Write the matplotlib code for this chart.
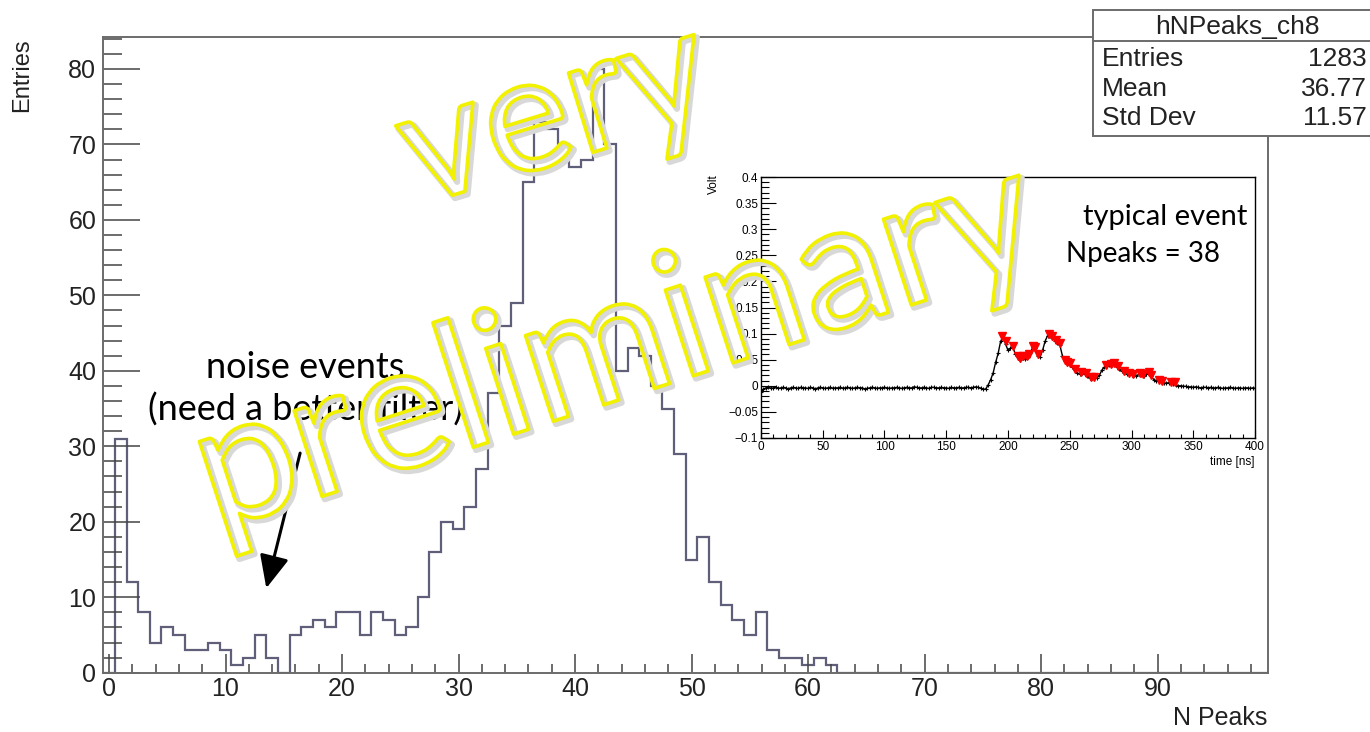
"""
Number of peaks found per event on channel 8, with one typical waveform
shown as an inset. ROOT-style histogram look done with matplotlib.
"""

import numpy as np
import matplotlib.pyplot as plt
import matplotlib.patheffects as pe
from matplotlib.patches import Rectangle
from matplotlib.ticker import FuncFormatter

W, H = 1370, 732

# ----------------------------------------------------------------------
# data
# ----------------------------------------------------------------------
# counts per integer N peaks, bins 0..62 (everything above is empty)
npeaks_counts = [0, 31, 12, 8, 4, 6, 5, 3, 3, 4, 3, 1, 2, 5, 2, 0,
                 5, 6, 7, 6, 8, 8, 5, 8, 7, 5, 6, 10, 16, 20, 19, 22,
                 27, 37, 46, 49, 65, 73, 72, 70, 67, 68, 80, 70,
                 40, 43, 42, 38, 35, 29, 15, 18, 12, 9, 7, 5, 8, 3, 2, 2, 1, 2, 1]
n_bins = 100

stat_names = ["Entries", "Mean", "Std Dev"]
stat_values = ["1283", "36.77", "11.57"]
hist_name = "hNPeaks_ch8"

# typical event, one sample every 2 ns from 0 to 400 ns
wave_dt = 2.0
wave_volts = [
    -0.012, -0.006, -0.004, -0.003, -0.005, -0.004, -0.003, -0.005, -0.004, -0.003,
    -0.004, -0.006, -0.004, -0.003, -0.004, -0.005, -0.003, -0.004, -0.004, -0.005,
    -0.003, -0.004, -0.006, -0.004, -0.003, -0.004, -0.005, -0.004, -0.003, -0.005,
    -0.004, -0.004, -0.003, -0.005, -0.004, -0.003, -0.004, -0.005, -0.004, -0.003,
    -0.004, -0.004, -0.006, -0.005, -0.004, -0.003, -0.004, -0.005, -0.004, -0.004,
    -0.003, -0.004, -0.005, -0.004, -0.004, -0.003, -0.004, -0.005, -0.004, -0.003,
    -0.004, -0.004, -0.002, -0.003, -0.004, -0.004, -0.003, -0.004, -0.005, -0.003,
    -0.003, -0.004, -0.004, -0.003, -0.004, -0.004, -0.005, -0.003, -0.004, -0.004,
    -0.003, -0.004, -0.004, -0.003, -0.003, -0.004, -0.003, -0.002, -0.003, -0.005,
    -0.007,                                                     # 180 ns
    -0.006, 0.002, 0.012, 0.025, 0.045, 0.062, 0.085, 0.094, 0.080, 0.068,   # 182-200
    0.072, 0.074, 0.060, 0.055, 0.050, 0.054, 0.052, 0.056, 0.062, 0.074,    # 202-220
    0.072, 0.058, 0.055, 0.068, 0.085, 0.096, 0.097, 0.092, 0.086, 0.082,    # 222-240
    0.078, 0.058, 0.048, 0.042, 0.040, 0.036, 0.030, 0.024, 0.023, 0.024,    # 242-260
    0.022, 0.018, 0.015, 0.014, 0.015, 0.015, 0.020, 0.030, 0.036, 0.038,    # 262-280
    0.039, 0.040, 0.041, 0.036, 0.032, 0.028, 0.026, 0.022, 0.021, 0.020,    # 282-300
    0.020, 0.018, 0.022, 0.020, 0.018, 0.022, 0.024, 0.018, 0.012, 0.010,    # 302-320
    0.010, 0.008, 0.006, 0.005, 0.006, 0.006, 0.004, 0.002, 0.000, 0.000,    # 322-340
    -0.001,                                                     # 342 ns
    -0.001, -0.002, -0.002, -0.003, -0.002, -0.003, -0.004, -0.003, -0.003, -0.004,
    -0.003, -0.004, -0.004, -0.003, -0.004, -0.005, -0.004, -0.004, -0.003, -0.004,
    -0.005, -0.004, -0.004, -0.005, -0.004, -0.004, -0.005, -0.004, -0.005,
]

# peaks found by the search in that event
peak_times = [195, 198, 204, 208, 210, 212, 215, 217, 220, 222,
              224, 233, 236, 239, 242, 246, 248, 250, 254, 259,
              263, 267, 270, 279, 283, 286, 289, 294, 298, 301,
              307, 309, 314, 316, 322, 325, 332, 335]
peak_volts = [0.096, 0.085, 0.076, 0.058, 0.054, 0.057, 0.058, 0.060, 0.076, 0.075,
              0.060, 0.099, 0.095, 0.088, 0.082, 0.050, 0.045, 0.043, 0.033, 0.026,
              0.025, 0.017, 0.017, 0.039, 0.041, 0.043, 0.038, 0.029, 0.024, 0.022,
              0.024, 0.022, 0.027, 0.021, 0.012, 0.010, 0.008, 0.008]

ROOT_FONT = "Liberation Sans"
NOTE_FONT = "Lato"
HIST_COLOR = "#5f5f7a"
FRAME_COLOR = "#6b6b6b"


def px_rect(left, top, right, bottom):
    """figure rect from pixel edges (origin top-left)"""
    return [left / W, 1 - bottom / H, (right - left) / W, (bottom - top) / H]


def fx(x):
    return x / W


def fy(y):
    return 1 - y / H


# ----------------------------------------------------------------------
# main histogram
# ----------------------------------------------------------------------
def draw_histogram(fig):
    ax = fig.add_axes(px_rect(103.2, 37.3, 1268.4, 672.7))
    counts = np.zeros(n_bins)
    counts[:len(npeaks_counts)] = npeaks_counts
    edges = np.arange(n_bins + 1) - 0.5
    ax.stairs(counts, edges, color=HIST_COLOR, linewidth=1.6)

    ax.set_xlim(-0.5, 99.5)
    ax.set_ylim(0, 84.2)
    ax.set_xticks(np.arange(0, 100, 10))
    ax.set_xticks(np.arange(0, 100, 2), minor=True)
    ax.set_yticks(np.arange(0, 81, 10))
    ax.set_yticks(np.arange(0, 85, 2), minor=True)

    for s in ax.spines.values():
        s.set_color(FRAME_COLOR)
        s.set_linewidth(1.4)
    ax.tick_params(axis="both", which="both", direction="in", color="#444444",
                   width=1.1, labelsize=18)
    ax.tick_params(axis="x", which="major", length=13.7, pad=3)
    ax.tick_params(axis="x", which="minor", length=6.8)
    ax.tick_params(axis="y", which="major", length=26.6, pad=5)
    ax.tick_params(axis="y", which="minor", length=13.7)
    for lab in ax.get_xticklabels() + ax.get_yticklabels():
        lab.set_fontfamily(ROOT_FONT)
        lab.set_color("#222222")

    fig.text(fx(22), fy(38), "Entries", rotation=90, ha="center", va="top",
             fontsize=17, family=ROOT_FONT, color="#222222")
    fig.text(fx(1267), fy(718), "N Peaks", ha="right", va="center",
             fontsize=18, family=ROOT_FONT, color="#222222")

    # comment about the low-N bump
    fig.text(fx(305), fy(368), "noise events", ha="center", va="center",
             fontsize=26, family=NOTE_FONT, color="black")
    fig.text(fx(305), fy(410), "(need a better filter)", ha="center", va="center",
             fontsize=26, family=NOTE_FONT, color="black")
    ax.annotate("", xy=(13.5, 11.2), xytext=(16.4, 29.1),
                arrowprops=dict(arrowstyle="-|>,head_length=1.0,head_width=0.45",
                                mutation_scale=20, color="black", lw=2.2,
                                shrinkA=0, shrinkB=0))
    return ax


def draw_stats_box(fig):
    box = Rectangle((fx(1093), fy(136)), fx(1420 - 1093), (136 - 10) / H,
                    transform=fig.transFigure, facecolor="white",
                    edgecolor=FRAME_COLOR, linewidth=1.4, zorder=5)
    fig.add_artist(box)
    fig.add_artist(plt.Line2D([fx(1093), fx(1420)], [fy(41), fy(41)],
                              transform=fig.transFigure, color=FRAME_COLOR,
                              linewidth=1.4, zorder=6))
    fig.text(fx(1237), fy(27), hist_name, ha="center", va="center",
             fontsize=19, family=ROOT_FONT, color="#222222", zorder=7)
    for i, (name, val) in enumerate(zip(stat_names, stat_values)):
        y = fy(59 + i * 29.5)
        fig.text(fx(1102), y, name, ha="left", va="center",
                 fontsize=19, family=ROOT_FONT, color="#222222", zorder=7)
        fig.text(fx(1367), y, val, ha="right", va="center",
                 fontsize=19, family=ROOT_FONT, color="#222222", zorder=7)


# ----------------------------------------------------------------------
# inset with one waveform
# ----------------------------------------------------------------------
def draw_inset(fig):
    iax = fig.add_axes(px_rect(761, 177, 1255, 438), zorder=3)
    t = np.arange(len(wave_volts)) * wave_dt
    iax.plot(t, wave_volts, color="black", linewidth=1.0, marker="+",
             markersize=3.5, markeredgewidth=0.8)
    iax.plot(peak_times, peak_volts, linestyle="none", marker="v",
             color="red", markersize=5.5)

    iax.set_xlim(0, 400)
    iax.set_ylim(-0.1, 0.4)
    iax.set_xticks(np.arange(0, 401, 50))
    iax.set_xticks(np.arange(0, 401, 10), minor=True)
    iax.set_yticks(np.arange(-0.1, 0.401, 0.05))
    iax.set_yticks(np.arange(-0.1, 0.401, 0.01), minor=True)
    iax.yaxis.set_major_formatter(
        FuncFormatter(lambda v, _: ("%g" % round(v, 3)).replace("-", "\u2212")))

    for s in iax.spines.values():
        s.set_color("black")
        s.set_linewidth(1.0)
    iax.tick_params(axis="both", which="both", direction="in", width=0.8,
                    labelsize=8.5, color="black")
    iax.tick_params(axis="x", which="major", length=6, pad=2)
    iax.tick_params(axis="x", which="minor", length=3)
    iax.tick_params(axis="y", which="major", length=11, pad=2)
    iax.tick_params(axis="y", which="minor", length=5.5)
    for lab in iax.get_xticklabels() + iax.get_yticklabels():
        lab.set_fontfamily(ROOT_FONT)

    fig.text(fx(1255), fy(462), "time [ns]", ha="right", va="center",
             fontsize=8.5, family=ROOT_FONT, zorder=4)
    fig.text(fx(714), fy(174), "Volt", rotation=90, ha="center", va="top",
             fontsize=8.5, family=ROOT_FONT, zorder=4)

    fig.text(fx(1165), fy(217), "typical event", ha="center", va="center",
             fontsize=21, family=NOTE_FONT, zorder=4)
    fig.text(fx(1143), fy(254), "Npeaks = 38", ha="center", va="center",
             fontsize=20, family=NOTE_FONT, zorder=4)
    return iax


def draw_watermark(fig):
    # outline-only lettering with a soft grey drop shadow
    effects = [pe.Stroke(linewidth=4.5, foreground="#d8d8d8", offset=(2, -2)),
               pe.Stroke(linewidth=2.6, foreground="#f2f200")]
    kw = dict(ha="center", va="center", family=NOTE_FONT,
              color="none", path_effects=effects, zorder=20)
    fig.text(fx(555), fy(115), "very", fontsize=118, rotation=17, **kw)
    fig.text(fx(616), fy(348), "preliminary", fontsize=128, rotation=18, **kw)


def main():
    fig = plt.figure(figsize=(W / 100, H / 100), dpi=100)
    draw_histogram(fig)
    draw_stats_box(fig)
    draw_inset(fig)
    draw_watermark(fig)
    fig.savefig("out.png", dpi=100)
    plt.close(fig)


if __name__ == "__main__":
    main()
